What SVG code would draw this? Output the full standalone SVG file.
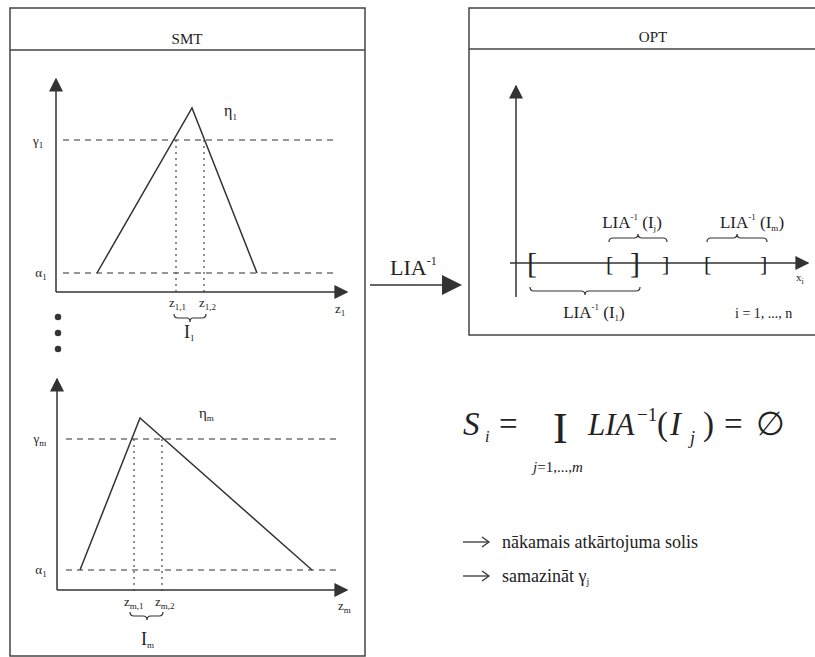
<svg xmlns="http://www.w3.org/2000/svg" width="815" height="657" viewBox="0 0 815 657">
<style>
text{font-family:"Liberation Serif","DejaVu Serif","Noto Serif",serif;fill:#222}
.frame{fill:none;stroke:#444;stroke-width:1.5}
.axis{fill:none;stroke:#333;stroke-width:1.5}
.dash{fill:none;stroke:#333;stroke-width:1.2;stroke-dasharray:6 5}
.dot{fill:none;stroke:#444;stroke-width:1.2;stroke-dasharray:2 4}
.curve{fill:none;stroke:#333;stroke-width:1.5}
.brace{fill:none;stroke:#333;stroke-width:1.2}
.lbl{font-size:13px}
.sub{font-size:9px}
.hdr{font-size:15px}
.mid{text-anchor:middle}
</style>
<defs>
<marker id="ah" viewBox="0 0 10 10" refX="9" refY="5" markerWidth="14" markerHeight="14" markerUnits="userSpaceOnUse" orient="auto">
<path d="M0,0 L10,5 L0,10 Z" fill="#333"/>
</marker>
<marker id="ahBig" viewBox="0 0 10 10" refX="9" refY="5" markerWidth="20" markerHeight="20" markerUnits="userSpaceOnUse" orient="auto">
<path d="M0,0 L10,5 L0,10 Z" fill="#333"/>
</marker>
</defs>
<rect width="815" height="657" fill="#fff"/>

<g id="smt-panel" font-family="Liberation Serif, DejaVu Serif, serif">
<rect class="frame" x="10" y="8" width="355" height="648"/>
<line class="frame" x1="10" y1="50" x2="365" y2="50"/>
<text class="hdr mid" x="187" y="44">SMT</text>
</g>

<g id="chart-1">
<line class="axis" x1="56" y1="292" x2="56" y2="79" marker-end="url(#ah)"/>
<line class="axis" x1="56" y1="292" x2="347" y2="292" marker-end="url(#ah)"/>
<line class="dash" x1="63" y1="140" x2="338" y2="140"/>
<line class="dash" x1="63" y1="273" x2="338" y2="273"/>
<polyline class="curve" points="97,273 192,108 257,273"/>
<line class="dot" x1="176" y1="140" x2="176" y2="296"/>
<line class="dot" x1="204" y1="140" x2="204" y2="296"/>
<text class="lbl mid" x="38" y="145">γ<tspan class="sub" dy="3">1</tspan></text>
<text class="lbl mid" x="41" y="277">α<tspan class="sub" dy="3">1</tspan></text>
<text x="224" y="116" style="font-size:16px">η<tspan class="sub" dy="4">1</tspan></text>
<text class="lbl" x="335" y="313">z<tspan class="sub" dy="3">1</tspan></text>
<text class="lbl" x="169" y="307">z<tspan class="sub" dy="3">1,1</tspan></text>
<text class="lbl" x="199" y="307">z<tspan class="sub" dy="3">1,2</tspan></text>
<path class="brace" d="M174,314 Q174,318 178,318 L187,318 Q190,318 190,322 Q190,318 193,318 L202,318 Q206,318 206,314"/>
<text x="184" y="338" style="font-size:18px">I<tspan class="sub" dy="3">1</tspan></text>
</g>

<g id="ellipsis">
<circle cx="58" cy="317" r="3.2" fill="#333"/>
<circle cx="58" cy="333" r="3.2" fill="#333"/>
<circle cx="58" cy="349" r="3.2" fill="#333"/>
</g>

<g id="chart-m">
<line class="axis" x1="57" y1="590" x2="57" y2="379" marker-end="url(#ah)"/>
<line class="axis" x1="57" y1="590" x2="347" y2="590" marker-end="url(#ah)"/>
<line class="dash" x1="66" y1="439" x2="338" y2="439"/>
<line class="dash" x1="66" y1="570" x2="338" y2="570"/>
<polyline class="curve" points="80,570 140,418 312,570"/>
<line class="dot" x1="134" y1="439" x2="134" y2="594"/>
<line class="dot" x1="162" y1="439" x2="162" y2="594"/>
<text class="lbl mid" x="40" y="443">γ<tspan class="sub" dy="3">m</tspan></text>
<text class="lbl mid" x="41" y="574">α<tspan class="sub" dy="3">1</tspan></text>
<text x="199" y="418" style="font-size:15px">η<tspan class="sub" dy="3">m</tspan></text>
<text class="lbl" x="338" y="610">z<tspan class="sub" dy="3">m</tspan></text>
<text class="lbl" x="124" y="606">z<tspan class="sub" dy="3">m,1</tspan></text>
<text class="lbl" x="155" y="606">z<tspan class="sub" dy="3">m,2</tspan></text>
<path class="brace" d="M130,612 Q130,616 134,616 L143,616 Q147,616 147,620 Q147,616 151,616 L159,616 Q163,616 163,612"/>
<text x="141" y="645" style="font-size:18px">I<tspan class="sub" dy="3">m</tspan></text>
</g>

<g id="connectors">
<line x1="370" y1="285" x2="460" y2="285" stroke="#333" stroke-width="1.5" marker-end="url(#ahBig)"/>
<text x="390" y="275" style="font-size:22px">LIA<tspan style="font-size:12px" dy="-10">-1</tspan></text>
</g>

<g id="opt-panel">
<rect class="frame" x="469" y="8" width="360" height="327"/>
<line class="frame" x1="469" y1="49" x2="815" y2="49"/>
<text class="hdr mid" x="653" y="42">OPT</text>
<line class="axis" x1="516" y1="297" x2="516" y2="86" marker-end="url(#ah)"/>
<line class="axis" x1="510" y1="263" x2="808" y2="263" marker-end="url(#ah)"/>
<text x="796" y="281" style="font-size:11px">x<tspan style="font-size:8px" dy="3">i</tspan></text>
<text x="527" y="273" style="font-size:30px">[</text>
<text x="606" y="271" style="font-size:22px">[</text>
<text x="630" y="273" style="font-size:30px">]</text>
<text x="662" y="271" style="font-size:22px">]</text>
<text x="704" y="271" style="font-size:22px">[</text>
<text x="760" y="271" style="font-size:22px">]</text>
<path class="brace" d="M609,242 Q609,238 613,238 L634,238 Q638,238 638,234 Q638,238 642,238 L663,238 Q667,238 667,242"/>
<path class="brace" d="M707,242 Q707,238 711,238 L733,238 Q737,238 737,234 Q737,238 741,238 L763,238 Q767,238 767,242"/>
<path class="brace" d="M530,287 Q530,291 534,291 L581,291 Q585,291 585,295 Q585,291 589,291 L636,291 Q640,291 640,287"/>
<text class="mid" x="632" y="228" style="font-size:17px">LIA<tspan style="font-size:9px" dy="-8">-1</tspan><tspan dy="8"> (I</tspan><tspan style="font-size:9px" dy="3">j</tspan><tspan dy="-3">)</tspan></text>
<text class="mid" x="752" y="228" style="font-size:17px">LIA<tspan style="font-size:9px" dy="-8">-1</tspan><tspan dy="8"> (I</tspan><tspan style="font-size:9px" dy="3">m</tspan><tspan dy="-3">)</tspan></text>
<text class="mid" x="594" y="318" style="font-size:17px">LIA<tspan style="font-size:9px" dy="-8">-1</tspan><tspan dy="8"> (I</tspan><tspan style="font-size:9px" dy="3">1</tspan><tspan dy="-3">)</tspan></text>
<text x="735" y="318" style="font-size:14px">i = 1, ..., n</text>
</g>

<g id="formula">
<text x="463" y="435" style="font-size:33px;font-style:italic">S</text>
<text x="485" y="442" style="font-size:16px;font-style:italic">i</text>
<text x="499" y="435" style="font-size:33px">=</text>
<text x="553" y="443" style="font-size:44px">I</text>
<text x="533" y="472" style="font-size:15px;font-style:italic">j<tspan style="font-style:normal">=1,...,</tspan>m</text>
<text x="588" y="435" style="font-size:31px;font-style:italic">LIA</text>
<text x="637" y="421" style="font-size:19px">−1</text>
<text x="657" y="435" style="font-size:33px">(</text>
<text x="670" y="435" style="font-size:33px;font-style:italic">I</text>
<text x="690" y="444" style="font-size:18px;font-style:italic">j</text>
<text x="703" y="435" style="font-size:33px">)</text>
<text x="724" y="435" style="font-size:33px">=</text>
<text x="756" y="435" style="font-size:33px">∅</text>
</g>

<g id="notes">
<line x1="463" y1="542" x2="488" y2="542" stroke="#333" stroke-width="1.3"/>
<path d="M482,537 L489,542 L482,547" fill="none" stroke="#333" stroke-width="1.3"/>
<text x="502" y="548" style="font-size:18px">nākamais atkārtojuma solis</text>
<line x1="463" y1="576" x2="488" y2="576" stroke="#333" stroke-width="1.3"/>
<path d="M482,571 L489,576 L482,581" fill="none" stroke="#333" stroke-width="1.3"/>
<text x="502" y="582" style="font-size:18px">samazināt γ<tspan style="font-size:10px" dy="3">j</tspan></text>
</g>
</svg>
